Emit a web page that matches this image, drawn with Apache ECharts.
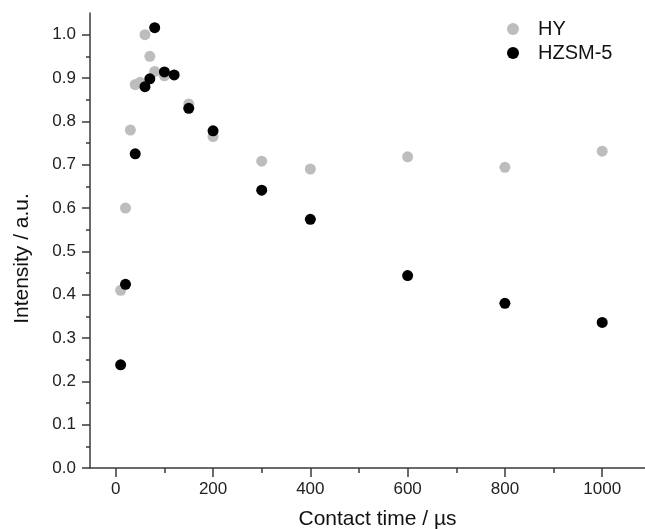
<!DOCTYPE html>
<html><head><meta charset="utf-8">
<script src="https://cdn.jsdelivr.net/npm/echarts@6/dist/echarts.min.js"></script>
<style>html,body{margin:0;padding:0;background:#fff}#c{width:645px;height:529px}</style>
</head><body><div id="c"></div>
<script>
const hyX = [10, 20, 30, 40, 50, 60, 70, 80, 100, 150, 200, 300, 400, 600, 800, 1000];
const hyY = [0.41, 0.60, 0.78, 0.885, 0.89, 1.00, 0.95, 0.915, 0.905, 0.84, 0.765, 0.708, 0.69, 0.718, 0.694, 0.731];
const zsmX = [10, 20, 40, 60, 70, 80, 100, 120, 150, 200, 300, 400, 600, 800, 1000];
const zsmY = [0.238, 0.424, 0.725, 0.88, 0.898, 1.016, 0.914, 0.907, 0.83, 0.778, 0.641, 0.574, 0.444, 0.38, 0.336];
const xTickLabels = [0, 200, 400, 600, 800, 1000];
const xMinorTicks = [100, 300, 500, 700, 900];
const yTickLabels = [0, 0.1, 0.2, 0.3, 0.4, 0.5, 0.6, 0.7, 0.8, 0.9, 1.0];
const yMinorTicks = [0.05, 0.15, 0.25, 0.35, 0.45, 0.55, 0.65, 0.75, 0.85, 0.95];

const FONT = 'Liberation Sans, Arial, sans-serif';
const axisCol = '#3a3a3a';
const XMIN = -53, XMAX = 1088, YMIN = 0, YMAX = 1.05;
const chart = echarts.init(document.getElementById('c'));
const pair = (xs, ys) => xs.map((x, i) => [x, ys[i]]);
chart.setOption({
  animation: false,
  grid: {left: 90, right: 0, top: 13, bottom: 61, outerBoundsMode: 'none', containLabel: false},
  legend: {
    orient: 'vertical', left: 502, top: 14, itemGap: 4,
    itemWidth: 40, itemHeight: 12,
    textStyle: {fontFamily: FONT, fontSize: 20, lineHeight: 20, color: '#111'},
    data: [{name: 'HY', icon: 'circle'}, {name: 'HZSM-5', icon: 'circle'}]
  },
  xAxis: [{
    type: 'value', min: XMIN, max: XMAX,
    name: 'Contact time / µs', nameLocation: 'middle', nameGap: 41,
    nameTextStyle: {fontFamily: FONT, fontSize: 21, color: '#111', padding: [0, 0, 0, 20]},
    axisLine: {show: true, onZero: false, lineStyle: {color: axisCol, width: 1.5}},
    axisTick: {show: true, customValues: xTickLabels, length: 9, lineStyle: {color: axisCol, width: 1.5}},
    axisLabel: {customValues: xTickLabels, margin: 13, fontFamily: FONT, fontSize: 17, color: '#222',
      formatter: v => String(v)},
    splitLine: {show: false}
  }, {
    type: 'value', min: XMIN, max: XMAX, position: 'bottom', offset: 0,
    axisLine: {show: false, onZero: false},
    axisTick: {show: true, customValues: xMinorTicks, length: 5, lineStyle: {color: axisCol, width: 1.5}},
    axisLabel: {show: false}, splitLine: {show: false}
  }],
  yAxis: [{
    type: 'value', min: YMIN, max: YMAX,
    name: 'Intensity / a.u.', nameLocation: 'middle', nameGap: 57,
    nameTextStyle: {fontFamily: FONT, fontSize: 21, color: '#111', padding: [0, 36, 0, 0]},
    axisLine: {show: true, onZero: false, lineStyle: {color: axisCol, width: 1.5}},
    axisTick: {show: true, customValues: yTickLabels, length: 8, lineStyle: {color: axisCol, width: 1.5}},
    axisLabel: {customValues: yTickLabels, margin: 14, fontFamily: FONT, fontSize: 17, color: '#222',
      formatter: v => v.toFixed(1)},
    splitLine: {show: false}
  }, {
    type: 'value', min: YMIN, max: YMAX, position: 'left', offset: 0,
    axisLine: {show: false, onZero: false},
    axisTick: {show: true, customValues: yMinorTicks, length: 4, lineStyle: {color: axisCol, width: 1.5}},
    axisLabel: {show: false}, splitLine: {show: false}
  }],
  series: [{
    name: 'HY', type: 'scatter', symbol: 'circle', symbolSize: 11,
    itemStyle: {color: '#bdbdbd', opacity: 1}, data: pair(hyX, hyY), z: 2
  }, {
    name: 'HZSM-5', type: 'scatter', symbol: 'circle', symbolSize: 11,
    itemStyle: {color: '#000', opacity: 1}, data: pair(zsmX, zsmY), z: 3
  }]
});
</script></body></html>
